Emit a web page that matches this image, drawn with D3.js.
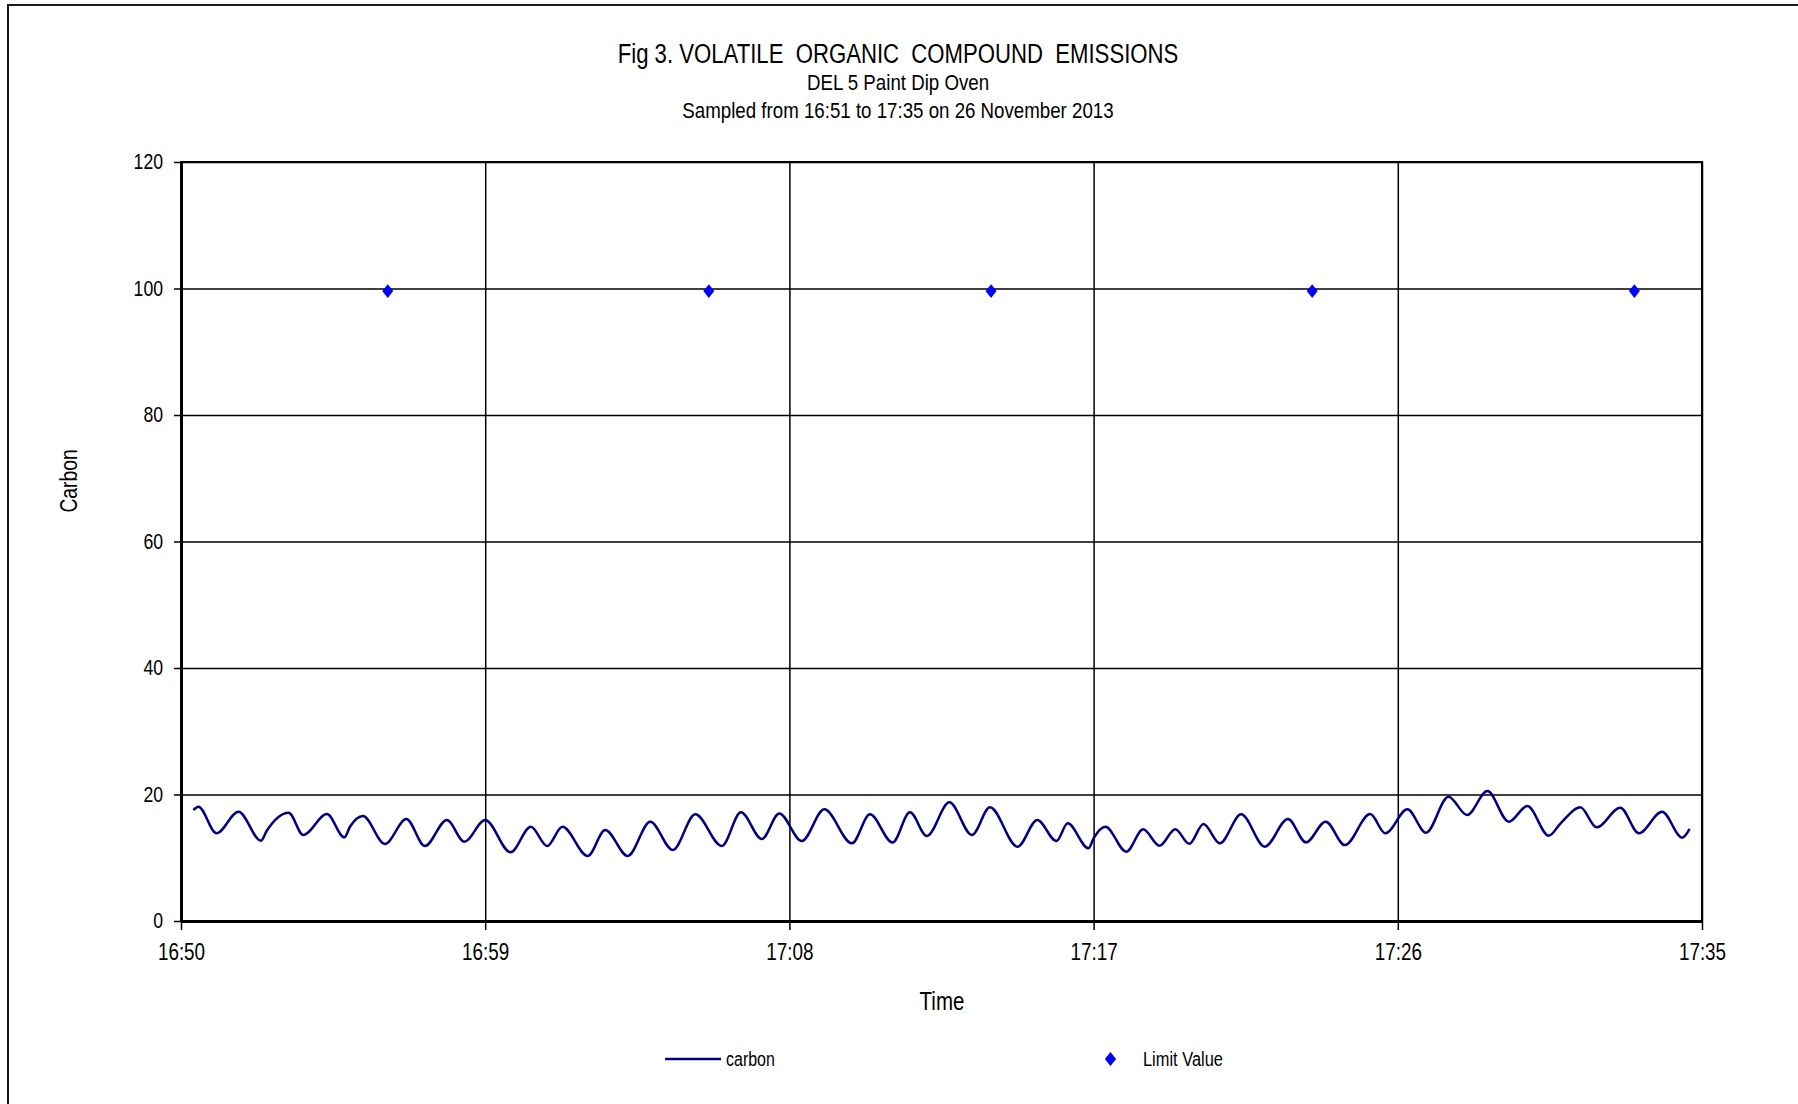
<!DOCTYPE html>
<html>
<head>
<meta charset="utf-8">
<script src="https://cdn.jsdelivr.net/npm/d3@7"></script>
<style>
    body { margin: 0; background: #fff; }
    svg text { font-family: "Liberation Sans", Arial, sans-serif; fill: #000; }
</style>
</head>
<body>
<svg id="chart"></svg>
<script>
// chart text
const titleLines = [
    "Fig 3. VOLATILE  ORGANIC  COMPOUND  EMISSIONS",
    "DEL 5 Paint Dip Oven",
    "Sampled from 16:51 to 17:35 on 26 November 2013"
];
const xTitle = "Time";
const yTitle = "Carbon";

// axes
const xDomain = ["16:50", "17:35"];
const xTickLabels = ["16:50", "16:59", "17:08", "17:17", "17:26", "17:35"];
const yTicks = [0, 20, 40, 60, 80, 100, 120];

// carbon series
const carbonTimes = [
    "16:50:22", "16:50:31", "16:51:03", "16:51:42", "16:52:22", "16:52:32", "16:53:11", "16:53:37",
    "16:54:19", "16:54:50", "16:55:00", "16:55:23", "16:56:02", "16:56:40", "16:57:13", "16:57:52",
    "16:58:23", "16:59:00", "16:59:45", "17:00:21", "17:00:50", "17:01:17", "17:02:02", "17:02:33",
    "17:03:13", "17:03:53", "17:04:33", "17:05:13", "17:06:00", "17:06:34", "17:07:11", "17:07:42",
    "17:08:22", "17:09:02", "17:09:51", "17:10:23", "17:11:03", "17:11:34", "17:12:04", "17:12:44",
    "17:13:24", "17:13:56", "17:14:45", "17:15:20", "17:15:54", "17:16:14", "17:16:51", "17:17:00",
    "17:17:21", "17:17:58", "17:18:28", "17:18:57", "17:19:25", "17:19:50", "17:20:15", "17:20:44",
    "17:21:22", "17:22:04", "17:22:45", "17:23:17", "17:23:52", "17:24:26", "17:25:11", "17:25:38",
    "17:26:17", "17:26:50", "17:27:30", "17:28:03", "17:28:39", "17:29:17", "17:29:50", "17:30:28",
    "17:30:49", "17:31:24", "17:31:53", "17:32:35", "17:33:08", "17:33:49", "17:34:25", "17:34:38"
];
const carbonValues = [
    17.55, 18.07, 13.86, 17.28, 12.70, 14.23, 17.12, 13.60,
    16.90, 13.23, 14.90, 16.60, 12.17, 16.13, 11.86, 15.97,
    12.54, 15.97, 10.86, 14.90, 11.86, 14.90, 10.28, 14.39,
    10.28, 15.70, 11.23, 16.87, 11.86, 17.18, 12.96, 17.00,
    12.65, 17.66, 12.28, 16.87, 12.40, 17.18, 13.44, 18.77,
    13.60, 17.97, 11.75, 15.97, 12.65, 15.44, 11.49, 13.07,
    14.90, 10.96, 14.49, 11.90, 14.50, 12.20, 15.34, 12.28,
    16.87, 11.75, 16.13, 12.44, 15.70, 12.00, 16.90, 13.86,
    17.66, 13.97, 19.65, 16.76, 20.55, 15.70, 18.18, 13.49,
    15.44, 17.97, 14.81, 17.92, 13.86, 17.28, 13.17, 14.55
];

// limit value series
const limitTimes = ["16:56:07", "17:05:37", "17:13:58", "17:23:28", "17:33:00"];
const limitValues = [99.6, 99.6, 99.6, 99.6, 99.6];

const legendLabels = ["carbon", "Limit Value"];

// squeeze Liberation Sans to look like the narrow face of the original
function narrow(selection, k = 0.82) {
    selection.each(function () {
        const w = this.getComputedTextLength();
        d3.select(this).attr("textLength", w * k).attr("lengthAdjust", "spacingAndGlyphs");
    });
}

class LineChart {
    margin = { top: 162, right: 96, bottom: 183, left: 181 }

    constructor(svg, width = 1798, height = 1104) {
        this.svg = d3.select(svg);
        this.fullWidth = width;
        this.fullHeight = height;
        this.width = width - this.margin.left - this.margin.right;
        this.height = height - this.margin.top - this.margin.bottom;
    }

    initialize() {
        const parseSec = d3.timeParse("%H:%M:%S");
        const parseMin = d3.timeParse("%H:%M");

        this.carbon = carbonTimes.map((t, i) => ({ t: parseSec(t), v: carbonValues[i] }));
        this.limit = limitTimes.map((t, i) => ({ t: parseSec(t), v: limitValues[i] }));
        this.xTicks = xTickLabels.map(parseMin);

        this.svg.attr("width", this.fullWidth).attr("height", this.fullHeight);

        // outer chart-area frame, runs off the right and bottom edges
        this.svg.append("rect")
            .attr("x", 8).attr("y", 5)
            .attr("width", this.fullWidth + 20).attr("height", this.fullHeight + 20)
            .attr("fill", "#fff").attr("stroke", "#1a1a1a").attr("stroke-width", 2);

        this.xScale = d3.scaleTime().domain(xDomain.map(parseMin)).range([0, this.width]);
        this.yScale = d3.scaleLinear().domain([0, 120]).range([this.height, 0]);

        this.container = this.svg.append("g")
            .attr("transform", `translate(${this.margin.left}, ${this.margin.top})`);
    }

    update() {
        const x = this.xScale, y = this.yScale;
        const g = this.container;

        // grid lines
        g.append("g")
            .call(d3.axisLeft(y).tickValues(yTicks).tickSize(-this.width).tickFormat(""))
            .call(a => a.select(".domain").remove())
            .selectAll("line").attr("stroke", "#000").attr("stroke-width", 1.5);

        g.append("g")
            .attr("transform", `translate(0, ${this.height})`)
            .call(d3.axisBottom(x).tickValues(this.xTicks).tickSize(-this.height).tickFormat(""))
            .call(a => a.select(".domain").remove())
            .selectAll("line").attr("stroke", "#000").attr("stroke-width", 1.5);

        // plot border (top/right)
        g.append("rect")
            .attr("width", this.width).attr("height", this.height)
            .attr("fill", "none").attr("stroke", "#000").attr("stroke-width", 2);

        // axes
        const yAxis = g.append("g")
            .call(d3.axisLeft(y).tickValues(yTicks).tickSize(7).tickPadding(11).tickSizeOuter(0));
        yAxis.select(".domain").attr("stroke-width", 3);
        yAxis.selectAll("line").attr("stroke-width", 1.5);
        yAxis.selectAll("text").attr("font-size", 21.5).style("font-family", null);

        const xAxis = g.append("g")
            .attr("transform", `translate(0, ${this.height})`)
            .call(d3.axisBottom(x).tickValues(this.xTicks).tickSize(9).tickPadding(14)
                .tickSizeOuter(0).tickFormat(d3.timeFormat("%H:%M")));
        xAxis.select(".domain").attr("stroke-width", 3);
        xAxis.selectAll("line").attr("stroke-width", 1.5);
        xAxis.selectAll("text").attr("font-size", 23).style("font-family", null);

        // carbon line
        const line = d3.line()
            .x(d => x(d.t))
            .y(d => y(d.v))
            .curve(d3.curveMonotoneX);

        g.append("path")
            .datum(this.carbon)
            .attr("d", line)
            .attr("fill", "none")
            .attr("stroke", "#000080")
            .attr("stroke-width", 2.5);

        // limit value diamonds
        const diamond = d3.symbol(d3.symbolDiamond2, 120);
        g.selectAll(".limit")
            .data(this.limit)
            .join("path")
            .attr("class", "limit")
            .attr("d", diamond)
            .attr("transform", d => `translate(${x(d.t)}, ${y(d.v)}) scale(0.8, 1)`)
            .attr("fill", "#0000ff");

        // titles
        const cx = 898;
        const titleSizes = [27, 22.8, 22.8];
        const titleY = [63, 90, 118];
        this.svg.selectAll(".title")
            .data(titleLines)
            .join("text")
            .attr("class", "title")
            .attr("x", cx)
            .attr("y", (d, i) => titleY[i])
            .attr("text-anchor", "middle")
            .attr("font-size", (d, i) => titleSizes[i])
            .style("white-space", "pre")
            .text(d => d);

        this.svg.append("text")
            .attr("x", 942).attr("y", 1010)
            .attr("text-anchor", "middle")
            .attr("font-size", 25)
            .text(xTitle);

        this.svg.append("text")
            .attr("transform", "translate(77, 481) rotate(-90)")
            .attr("text-anchor", "middle")
            .attr("font-size", 23.5)
            .text(yTitle);

        // legend
        const legend = this.svg.append("g");
        legend.append("line")
            .attr("x1", 665).attr("x2", 721)
            .attr("y1", 1059).attr("y2", 1059)
            .attr("stroke", "#000080").attr("stroke-width", 2.5);
        legend.append("text")
            .attr("x", 726).attr("y", 1066)
            .attr("font-size", 19.5)
            .text(legendLabels[0]);
        legend.append("path")
            .attr("d", d3.symbol(d3.symbolDiamond2, 125)())
            .attr("transform", "translate(1110.5, 1059) scale(0.8, 1)")
            .attr("fill", "#0000ff");
        legend.append("text")
            .attr("x", 1143).attr("y", 1066)
            .attr("font-size", 20)
            .text(legendLabels[1]);

        narrow(this.svg.selectAll("text"));
    }
}

const chart = new LineChart("#chart");
chart.initialize();
chart.update();
</script>
</body>
</html>
